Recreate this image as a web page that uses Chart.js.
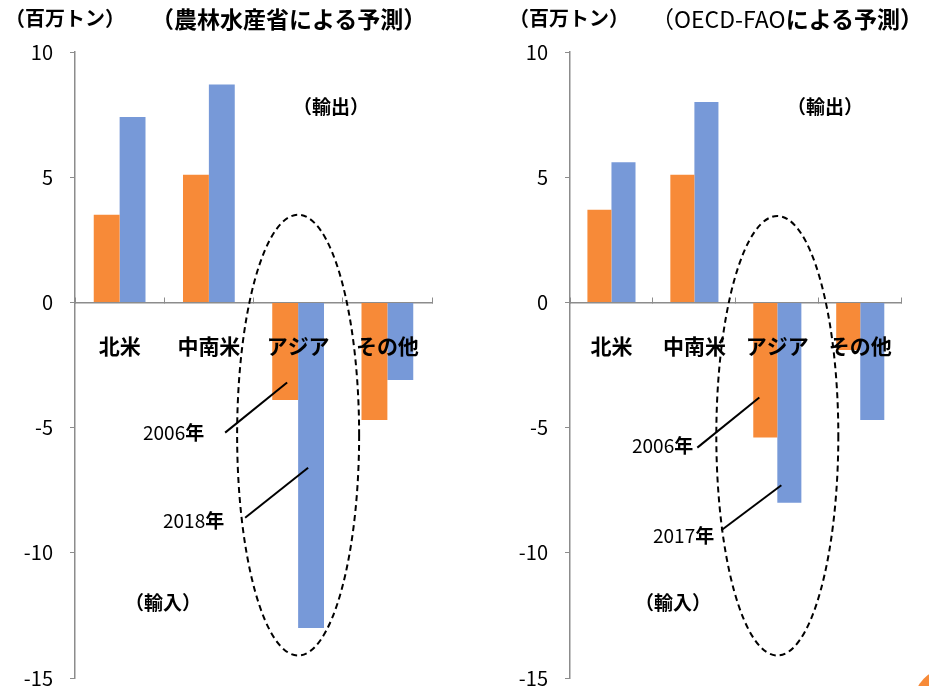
<!DOCTYPE html>
<html>
<head>
<meta charset="utf-8">
<script src="https://cdn.jsdelivr.net/npm/chart.js@4.4.1/dist/chart.umd.min.js"></script>
<style>
  body { margin: 0; background: #fff; font-family: 'Noto Sans CJK JP', sans-serif; }
  #wrap { position: relative; width: 929px; height: 686px; overflow: hidden; }
  .cv { position: absolute; top: 0; height: 707px; }
  .txt { position: absolute; white-space: nowrap; color: #000; line-height: 1; }
  .b { font-weight: bold; }
  .n { font-weight: normal; }
</style>
</head>
<body>
<div id="wrap">
  <div class="cv" style="left:0;width:464px"><canvas id="leftChart"></canvas></div>
  <div class="cv" style="left:495px;width:434px"><canvas id="rightChart"></canvas></div>

  <div class="txt b" style="left:5px;top:8px;font-size:20px">（百万トン）</div>
  <div class="txt b" style="left:151px;top:7px;font-size:23px">（農林水産省による予測）</div>
  <div class="txt b" style="left:509px;top:8px;font-size:20px">（百万トン）</div>
  <div class="txt" style="left:651px;top:7px;font-size:23px"><span class="n">（OECD-FAO</span><span class="b">による予測）</span></div>

  <div class="txt b" style="left:293px;top:96px;font-size:19px">（輸出）</div>
  <div class="txt b" style="left:125px;top:592px;font-size:19px">（輸入）</div>
  <div class="txt" style="left:143px;top:422px;font-size:19px">2006<span class="b">年</span></div>
  <div class="txt" style="left:163px;top:510px;font-size:19px">2018<span class="b">年</span></div>

  <div class="txt b" style="left:787px;top:96px;font-size:19px">（輸出）</div>
  <div class="txt b" style="left:635px;top:592px;font-size:19px">（輸入）</div>
  <div class="txt" style="left:632px;top:435px;font-size:19px">2006<span class="b">年</span></div>
  <div class="txt" style="left:653px;top:525px;font-size:19px">2017<span class="b">年</span></div>

  <div style="position:absolute;left:914px;top:669px;width:66px;height:66px;border-radius:50%;background:#f78a38"></div>
</div>

<script>
// 地域区分と目盛
const regions = ['北米', '中南米', 'アジア', 'その他'];
const yTicks = [-15, -10, -5, 0, 5, 10];

// 農林水産省による予測（百万トン、正=輸出 負=輸入）
const maff2006 = [3.5, 5.1, -3.9, -4.7];
const maff2018 = [7.4, 8.7, -13.0, -3.1];

// OECD-FAOによる予測
const oecd2006 = [3.7, 5.1, -5.4, -1.9];
const oecd2017 = [5.6, 8.0, -8.0, -4.7];

const ORANGE = 'rgb(247, 138, 56)';
const BLUE = 'rgb(119, 153, 216)';
const AXIS = '#8c8c8c';

// アジアを囲む破線の楕円と年ラベルへの引出線
const leftMarks = {
  ellipse: { cat: 'アジア', top: 3.5, bottom: -14.1, halfWidth: 61 },
  leaders: [
    { cat: 'アジア', from: [-73, -5.2], to: [-11, -3.2] },
    { cat: 'アジア', from: [-53, -8.6], to: [10, -6.6] }
  ]
};
const rightMarks = {
  ellipse: { cat: 'アジア', top: 3.45, bottom: -14.1, halfWidth: 61 },
  leaders: [
    { cat: 'アジア', from: [-80, -5.8], to: [-18, -3.8] },
    { cat: 'アジア', from: [-56, -9.1], to: [4, -7.3] }
  ]
};

const overlay = {
  id: 'overlay',
  afterDraw(chart, args, opts) {
    const ctx = chart.ctx;
    const xs = chart.scales.x, ys = chart.scales.y;
    const e = opts.ellipse;
    const cx = xs.getPixelForValue(regions.indexOf(e.cat));
    const yT = ys.getPixelForValue(e.top), yB = ys.getPixelForValue(e.bottom);
    ctx.save();
    ctx.strokeStyle = '#000';
    ctx.lineWidth = 2;
    ctx.setLineDash([6, 4]);
    ctx.beginPath();
    ctx.ellipse(cx, (yT + yB) / 2, e.halfWidth, (yB - yT) / 2, 0, 0, Math.PI * 2);
    ctx.stroke();
    ctx.setLineDash([]);
    opts.leaders.forEach(l => {
      const c = xs.getPixelForValue(regions.indexOf(l.cat));
      ctx.beginPath();
      ctx.moveTo(c + l.from[0], ys.getPixelForValue(l.from[1]));
      ctx.lineTo(c + l.to[0], ys.getPixelForValue(l.to[1]));
      ctx.stroke();
    });
    ctx.restore();
  }
};

function makeChart(id, a, b, marks, rightPad) {
  return new Chart(document.getElementById(id), {
    type: 'bar',
    data: {
      labels: regions,
      datasets: [
        { label: '2006年', data: a, backgroundColor: ORANGE },
        { label: 'b', data: b, backgroundColor: BLUE }
      ]
    },
    options: {
      responsive: true,
      maintainAspectRatio: false,
      animation: false,
      layout: { padding: { top: 52, bottom: 0, left: 0, right: rightPad } },
      datasets: { bar: { categoryPercentage: 0.58, barPercentage: 1 } },
      plugins: {
        legend: { display: false },
        tooltip: { enabled: false },
        overlay: marks
      },
      scales: {
        x: {
          position: { y: 0 },
          grid: { offset: true, drawOnChartArea: false, tickLength: -6, color: AXIS, lineWidth: 1 },
          border: { color: AXIS, width: 1.5 },
          ticks: {
            z: 1, // 地域名は棒の上に重ねて描く
            padding: 37,
            color: '#000',
            font: { family: "'Noto Sans CJK JP'", size: 21, weight: 'bold' }
          }
        },
        y: {
          min: -15,
          max: 10,
          afterBuildTicks: s => { s.ticks = yTicks.map(v => ({ value: v })); },
          afterFit: s => { s.width = 75; },
          grid: { drawOnChartArea: false, tickLength: 5, color: AXIS },
          border: { color: AXIS, width: 1.5 },
          ticks: {
            padding: 17,
            color: '#000',
            font: { family: "'Noto Sans CJK JP'", size: 20 }
          }
        }
      }
    },
    plugins: [overlay]
  });
}

makeChart('leftChart', maff2006, maff2018, leftMarks, 32);
makeChart('rightChart', oecd2006, oecd2017, rightMarks, 2);
</script>
</body>
</html>
